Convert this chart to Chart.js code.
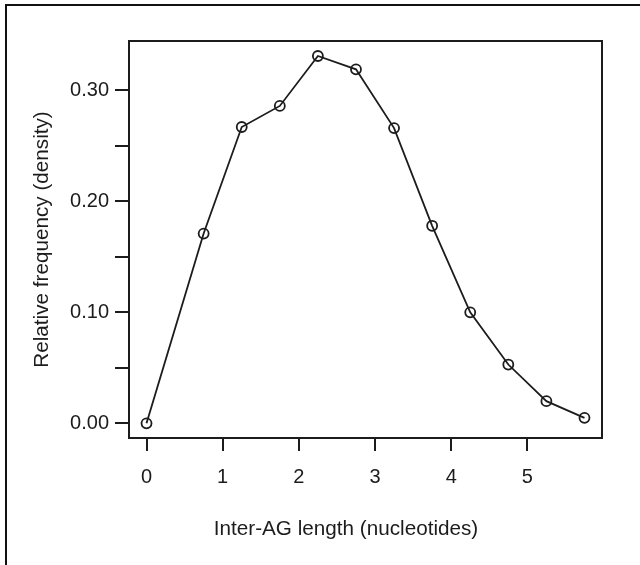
<!DOCTYPE html>
<html>
<head>
<meta charset="utf-8">
<script src="https://cdn.jsdelivr.net/npm/chart.js@4/dist/chart.umd.min.js"></script>
<style>
  body { margin: 0; background: #fff; }
  #wrap { position: relative; width: 640px; height: 565px; }
  #frame { position: absolute; left: 5px; top: 4px; right: 0; bottom: 0;
           border-top: 2px solid #111; border-left: 2px solid #111; pointer-events: none; }
  canvas { position: absolute; left: 0; top: 0; }
</style>
</head>
<body>
<div id="wrap">
  <canvas id="myChart" width="640" height="565"></canvas>
  <div id="frame"></div>
</div>
<script>
// inter-AG length bins and their relative frequency
var lengths = [0, 0.75, 1.25, 1.75, 2.25, 2.75, 3.25, 3.75, 4.25, 4.75, 5.25, 5.75];
var density = [0, 0.171, 0.267, 0.286, 0.331, 0.319, 0.266, 0.178, 0.100, 0.053, 0.020, 0.005];

var xTicks = [0, 1, 2, 3, 4, 5];
var xTickLabels = ['0', '1', '2', '3', '4', '5'];
var yTicks = [0, 0.05, 0.10, 0.15, 0.20, 0.25, 0.30];
var yTickLabels = ['0.00', '', '0.10', '', '0.20', '', '0.30'];

var xTitle = 'Inter-AG length (nucleotides)';
var yTitle = 'Relative frequency (density)';

var ink = '#1c1c1c';
var fontFamily = "'Liberation Sans', Arial, sans-serif";

// R-style closed box around the plot region, plus the axis titles
var boxPlugin = {
    id: 'box',
    afterDraw: function(chart) {
        var a = chart.chartArea;
        var ctx = chart.ctx;
        ctx.save();
        ctx.strokeStyle = ink;
        ctx.lineWidth = 2;
        ctx.strokeRect(a.left, a.top, a.right - a.left, a.bottom - a.top);

        ctx.fillStyle = ink;
        ctx.font = '20.7px ' + fontFamily;
        ctx.textAlign = 'center';
        ctx.textBaseline = 'middle';
        ctx.fillText(xTitle, 346, 529);

        ctx.translate(42, (a.top + a.bottom) / 2);
        ctx.rotate(-Math.PI / 2);
        ctx.fillText(yTitle, 0, 0);
        ctx.restore();
    }
};

var ctx = document.getElementById('myChart').getContext('2d');
var myChart = new Chart(ctx, {
    type: 'line',
    data: {
        datasets: [{
            data: lengths.map(function(x, i) { return { x: x, y: density[i] }; }),
            borderColor: ink,
            borderWidth: 1.8,
            pointStyle: 'circle',
            pointRadius: 5,
            pointBorderWidth: 1.8,
            pointBorderColor: ink,
            pointBackgroundColor: 'rgba(0,0,0,0)',
            tension: 0,
            fill: false
        }]
    },
    options: {
        responsive: false,
        animation: false,
        devicePixelRatio: 1,
        layout: { padding: { left: 0, right: 38, top: 41, bottom: 0 } },
        plugins: { legend: { display: false }, tooltip: { enabled: false } },
        scales: {
            x: {
                type: 'linear',
                min: -0.23,
                max: 5.98,
                afterFit: function(s) { s.height = 127; },
                afterBuildTicks: function(s) {
                    s.ticks = xTicks.map(function(v) { return { value: v }; });
                },
                border: { display: false },
                grid: { drawOnChartArea: false, drawTicks: true, tickLength: 13, lineWidth: 2, color: ink },
                ticks: {
                    padding: 14,
                    color: ink,
                    maxRotation: 0,
                    autoSkip: false,
                    font: { family: fontFamily, size: 20 },
                    callback: function(v, i) { return xTickLabels[i]; }
                },
                title: { display: false }
            },
            y: {
                type: 'linear',
                min: -0.0132,
                max: 0.3445,
                afterFit: function(s) { s.width = 129; },
                afterBuildTicks: function(s) {
                    s.ticks = yTicks.map(function(v) { return { value: v }; });
                },
                border: { display: false },
                grid: { drawOnChartArea: false, drawTicks: true, tickLength: 14, lineWidth: 2, color: ink },
                ticks: {
                    padding: 6,
                    color: ink,
                    autoSkip: false,
                    font: { family: fontFamily, size: 20 },
                    callback: function(v, i) { return yTickLabels[i]; }
                },
                title: { display: false }
            }
        }
    },
    plugins: [boxPlugin]
});
</script>
</body>
</html>
